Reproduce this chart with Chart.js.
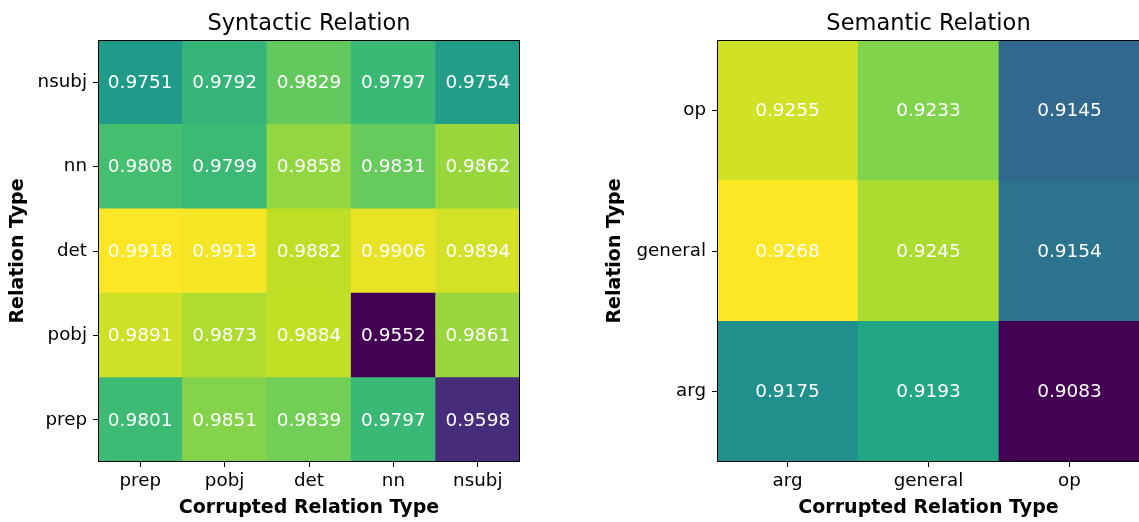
<!DOCTYPE html>
<html>
<head>
<meta charset="utf-8">
<script src="https://cdn.jsdelivr.net/npm/chart.js@4.4.0/dist/chart.umd.min.js"></script>
<style>
    html, body { margin: 0; padding: 0; background: #fff; overflow: hidden; }
    #wrap { position: relative; width: 1139px; height: 522px; overflow: hidden; }
    .box { position: absolute; top: 0; height: 522px; }
</style>
</head>
<body>
<div id="wrap">
    <div class="box" style="left:0;width:560px"><canvas id="syntacticCanvas" width="560" height="522"></canvas></div>
    <div class="box" style="left:580px;width:560px"><canvas id="semanticCanvas" width="560" height="522"></canvas></div>
</div>
<script>
// rows are listed bottom to top, as on the y axis
const syntacticCols = ["prep", "pobj", "det", "nn", "nsubj"];
const syntacticRows = ["prep", "pobj", "det", "nn", "nsubj"];
const syntacticPrep = [0.9801, 0.9851, 0.9839, 0.9797, 0.9598];
const syntacticPobj = [0.9891, 0.9873, 0.9884, 0.9552, 0.9861];
const syntacticDet = [0.9918, 0.9913, 0.9882, 0.9906, 0.9894];
const syntacticNn = [0.9808, 0.9799, 0.9858, 0.9831, 0.9862];
const syntacticNsubj = [0.9751, 0.9792, 0.9829, 0.9797, 0.9754];

const semanticCols = ["arg", "general", "op"];
const semanticRows = ["arg", "general", "op"];
const semanticArg = [0.9175, 0.9193, 0.9083];
const semanticGeneral = [0.9268, 0.9245, 0.9154];
const semanticOp = [0.9255, 0.9233, 0.9145];

const FONT = "'DejaVu Sans', sans-serif";

// viridis, sampled every 0.1
const viridisStops = [
    [68, 1, 84], [72, 36, 117], [65, 68, 135], [53, 95, 141], [42, 120, 142],
    [33, 145, 140], [34, 168, 132], [68, 191, 112], [122, 209, 81], [189, 223, 38],
    [253, 231, 37]
];

function viridis(t) {
    t = Math.max(0, Math.min(1, t));
    const pos = t * (viridisStops.length - 1);
    const i = Math.min(Math.floor(pos), viridisStops.length - 2);
    const f = pos - i;
    const a = viridisStops[i], b = viridisStops[i + 1];
    const c = a.map((v, k) => Math.round(v + (b[k] - v) * f));
    return `rgb(${c[0]},${c[1]},${c[2]})`;
}

function drawHeatmap(canvasId, title, rows, cols, values, yAxisWidth, yTitlePad, rightPad) {
    const flat = values.flat();
    const vmin = Math.min(...flat);
    const vmax = Math.max(...flat);

    const datasets = rows.map((row, i) => ({
        label: row,
        data: cols.map(() => [i - 0.5, i + 0.5]),
        backgroundColor: values[i].map(v => viridis((v - vmin) / (vmax - vmin))),
        grouped: false,
        barPercentage: 1,
        categoryPercentage: 1,
        borderWidth: 0
    }));

    const cellLabels = {
        id: "cellLabels",
        afterDatasetsDraw(chart) {
            const ctx = chart.ctx;
            ctx.save();
            ctx.fillStyle = "#fff";
            ctx.font = `18.5px ${FONT}`;
            ctx.textAlign = "center";
            ctx.textBaseline = "middle";
            chart.data.datasets.forEach((ds, i) => {
                chart.getDatasetMeta(i).data.forEach((bar, j) => {
                    const yMid = (bar.y + bar.base) / 2;
                    ctx.fillText(values[i][j].toFixed(4), bar.x, yMid + 1);
                });
            });
            ctx.restore();
        }
    };

    const frame = {
        id: "frame",
        afterDraw(chart) {
            const a = chart.chartArea;
            const ctx = chart.ctx;
            ctx.save();
            ctx.strokeStyle = "#000";
            ctx.lineWidth = 1;
            ctx.strokeRect(a.left + 0.5, a.top + 0.5, a.right - a.left - 1, a.bottom - a.top - 1);
            ctx.restore();
        }
    };

    return new Chart(document.getElementById(canvasId), {
        type: "bar",
        data: { labels: cols, datasets },
        options: {
            responsive: false,
            animation: false,
            layout: { padding: { left: 0, right: rightPad, top: 0, bottom: 0 } },
            plugins: {
                legend: { display: false },
                tooltip: { enabled: false },
                title: {
                    display: true,
                    text: title,
                    fullSize: false,
                    color: "#000",
                    font: { family: FONT, size: 22.5, weight: "normal" },
                    padding: { top: 11, bottom: 2 }
                }
            },
            scales: {
                x: {
                    type: "category",
                    offset: true,
                    grid: { offset: false, drawOnChartArea: false, drawTicks: true, tickLength: 5, color: "#000" },
                    border: { display: false },
                    ticks: { color: "#000", padding: 3, font: { family: FONT, size: 18.3 } },
                    title: {
                        display: true,
                        text: "Corrupted Relation Type",
                        color: "#000",
                        font: { family: FONT, size: 19, weight: "bold" },
                        padding: { top: 0, bottom: 3 }
                    },
                    afterFit(scale) { scale.height = 60; }
                },
                y: {
                    type: "linear",
                    min: -0.5,
                    max: rows.length - 0.5,
                    afterBuildTicks(scale) {
                        scale.ticks = rows.map((_, i) => ({ value: i }));
                    },
                    grid: { drawOnChartArea: false, drawTicks: true, tickLength: 5, color: "#000" },
                    border: { display: false },
                    ticks: {
                        color: "#000",
                        padding: 6,
                        font: { family: FONT, size: 18.3 },
                        callback: value => rows[value]
                    },
                    title: {
                        display: true,
                        text: "Relation Type",
                        color: "#000",
                        font: { family: FONT, size: 19, weight: "bold" },
                        padding: { top: yTitlePad, bottom: 0 }
                    },
                    afterFit(scale) { scale.width = yAxisWidth; }
                }
            }
        },
        plugins: [cellLabels, frame]
    });
}

drawHeatmap("syntacticCanvas", "Syntactic Relation", syntacticRows, syntacticCols,
    [syntacticPrep, syntacticPobj, syntacticDet, syntacticNn, syntacticNsubj], 98, 6.6, 40);

drawHeatmap("semanticCanvas", "Semantic Relation", semanticRows, semanticCols,
    [semanticArg, semanticGeneral, semanticOp], 137, 23.6, 0);
</script>
</body>
</html>
